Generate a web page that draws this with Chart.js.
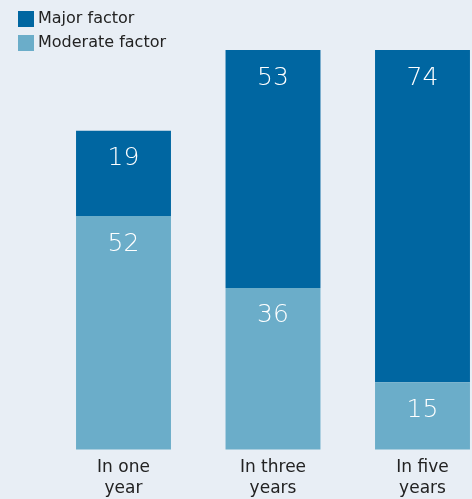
<!DOCTYPE html>
<html>
<head>
<meta charset="utf-8">
<script src="https://cdn.jsdelivr.net/npm/chart.js@4"></script>
<style>
  html, body { margin: 0; padding: 0; background: #e8eef5; overflow: hidden; }
  #wrap { width: 472px; height: 499px; overflow: hidden; }
</style>
</head>
<body>
<div id="wrap"><canvas id="chart" width="472" height="506"></canvas></div>
<script>
// === Data ===
const categories = [["In one", "year"], ["In three", "years"], ["In five", "years"]];
const moderate = [52, 36, 15];
const major = [19, 53, 74];
const seriesNames = ["Moderate factor", "Major factor"];

const DARK = "#0066a1";
const LIGHT = "#6badc9";
const FONT = "'DejaVu Sans', sans-serif";

// draws values near the top of each segment
const valueLabels = {
  id: "valueLabels",
  afterDatasetsDraw(chart) {
    const c = chart.ctx;
    c.save();
    c.fillStyle = "#ffffff";
    c.font = "200 25px " + FONT;
    c.textAlign = "center";
    c.textBaseline = "middle";
    chart.data.datasets.forEach((ds, i) => {
      chart.getDatasetMeta(i).data.forEach((bar, j) => {
        c.fillText(String(ds.data[j]), bar.x, bar.y + 28);
      });
    });
    c.restore();
  }
};

// legend drawn as a column in the top-left corner
const cornerLegend = {
  id: "cornerLegend",
  afterDraw(chart) {
    const c = chart.ctx;
    const items = [
      { text: seriesNames[1], color: DARK },
      { text: seriesNames[0], color: LIGHT }
    ];
    c.save();
    c.font = "16px " + FONT;
    c.textBaseline = "middle";
    items.forEach((it, i) => {
      const y = 19 + i * 24;
      c.fillStyle = it.color;
      c.fillRect(18, y - 8, 16, 16);
      c.fillStyle = "#222222";
      c.fillText(it.text, 38, y);
    });
    c.restore();
  }
};

new Chart(document.getElementById("chart"), {
  type: "bar",
  data: {
    labels: categories,
    datasets: [
      { label: seriesNames[0], data: moderate, backgroundColor: LIGHT, clip: false,
        categoryPercentage: 1, barPercentage: 0.635 },
      { label: seriesNames[1], data: major, backgroundColor: DARK, clip: false,
        categoryPercentage: 1, barPercentage: 0.635 }
    ]
  },
  options: {
    responsive: false,
    animation: false,
    layout: { padding: { left: 123.5, right: 49.5, top: 50, bottom: 0 } },
    plugins: {
      legend: { display: false },
      tooltip: { enabled: false }
    },
    scales: {
      x: {
        stacked: true,
        offset: false,
        grid: { display: false, drawTicks: false },
        border: { display: false },
        ticks: { color: "#222222", font: { family: FONT, size: 17, lineHeight: 1.25 }, padding: 7, maxRotation: 0 }
      },
      y: {
        stacked: true,
        display: false,
        min: 0,
        max: 89
      }
    }
  },
  plugins: [valueLabels, cornerLegend]
});
</script>
</body>
</html>
